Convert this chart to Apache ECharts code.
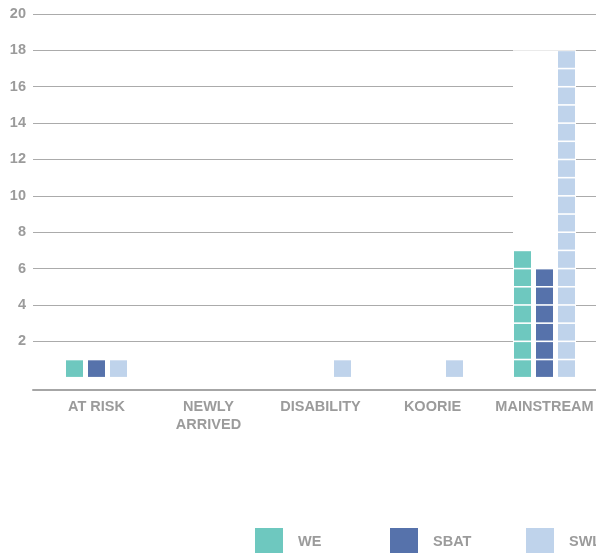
<!DOCTYPE html>
<html>
<head>
<meta charset="utf-8">
<script src="https://cdn.jsdelivr.net/npm/echarts@6/dist/echarts.min.js"></script>
<style>
  html, body { margin: 0; padding: 0; background: #fff; overflow: hidden; }
  #chart { width: 640px; height: 553px; }
</style>
</head>
<body>
<div id="chart"></div>
<script>
// Student counts per cohort, one block per student
const categories = ['AT RISK', 'NEWLY\nARRIVED', 'DISABILITY', 'KOORIE', 'MAINSTREAM'];
const weCounts   = [1, 0, 0, 0, 7];
const sbatCounts = [1, 0, 0, 0, 6];
const swlCounts  = [1, 0, 1, 1, 18];

const seriesNames  = ['WE', 'SBAT', 'SWL'];
const seriesColors = ['#6ec8bf', '#5672ab', '#bfd3eb'];

const yMin = 0, yMax = 20, yStep = 2;

// White backing behind each cohort group, as tall as its largest column
const groupMax = categories.map((_, i) => Math.max(weCounts[i], sbatCounts[i], swlCounts[i]));

const textGray = '#9b9b9b';
const font = '"Liberation Sans", Arial, Helvetica, sans-serif';
const fontSize = 14.5;

const chart = echarts.init(document.getElementById('chart'), null, { renderer: 'canvas' });

const gridTop = 14, gridHeight = 363.7;

function blockSeries(name, data, color) {
  return {
    name: name,
    type: 'pictorialBar',
    xAxisIndex: 1,
    yAxisIndex: 1,
    data: data,
    barWidth: 17,
    barGap: '29.4%',
    symbol: 'rect',
    symbolRepeat: true,
    symbolSize: [17, 16.6],
    symbolMargin: '0.8!',
    symbolClip: false,
    itemStyle: { color: color },
    z: 3,
    animation: false
  };
}

// One legend entry per block, spaced evenly along the bottom
const legendLefts = [255, 390, 526];
const legends = seriesNames.map((name, i) => ({
  data: [name],
  left: legendLefts[i],
  top: 528,
  padding: 0,
  itemWidth: 28,
  itemHeight: 28,
  icon: 'rect',
  textStyle: {
    color: textGray, fontSize: fontSize, fontWeight: 'bold', fontFamily: font,
    padding: [2, 0, 0, 10]
  }
}));

chart.setOption({
  animation: false,
  color: seriesColors,
  textStyle: { fontFamily: font },
  grid: [
    { left: 33, width: 580, top: gridTop, height: gridHeight, containLabel: false },
    { left: 40.5, width: 560, top: gridTop, height: gridHeight, containLabel: false }
  ],
  xAxis: [
    {
      gridIndex: 0, type: 'value', min: 0, max: 1,
      offset: 12.3,
      axisLine: { show: true, onZero: false, lineStyle: { color: '#a6a6a6', width: 2 } },
      axisTick: { show: false }, axisLabel: { show: false }, splitLine: { show: false }
    },
    {
      gridIndex: 1, type: 'category', data: categories,
      offset: 12.3,
      axisLine: { show: false, onZero: false }, axisTick: { show: false },
      axisLabel: {
        color: textGray, fontSize: fontSize, fontWeight: 'bold', fontFamily: font,
        margin: 8, lineHeight: 18, interval: 0
      }
    }
  ],
  yAxis: [
    {
      gridIndex: 0, type: 'value', min: yMin, max: yMax, interval: yStep,
      axisLine: { show: false }, axisTick: { show: false },
      axisLabel: {
        color: textGray, fontSize: fontSize, fontWeight: 'bold', fontFamily: font,
        margin: 7, showMinLabel: false
      },
      splitLine: { show: true, showMinLine: false, lineStyle: { color: '#ababab', width: 1 } }
    },
    {
      gridIndex: 1, type: 'value', min: yMin, max: yMax, interval: yStep,
      show: false
    }
  ],
  legend: legends,
  series: [
    {
      name: 'backing',
      type: 'bar',
      xAxisIndex: 1,
      yAxisIndex: 1,
      data: groupMax,
      barWidth: 63,
      itemStyle: { color: '#ffffff', borderColor: '#ffffff', borderWidth: 6 },
      silent: true,
      z: 1
    },
    blockSeries(seriesNames[0], weCounts, seriesColors[0]),
    blockSeries(seriesNames[1], sbatCounts, seriesColors[1]),
    blockSeries(seriesNames[2], swlCounts, seriesColors[2])
  ]
});
</script>
</body>
</html>
